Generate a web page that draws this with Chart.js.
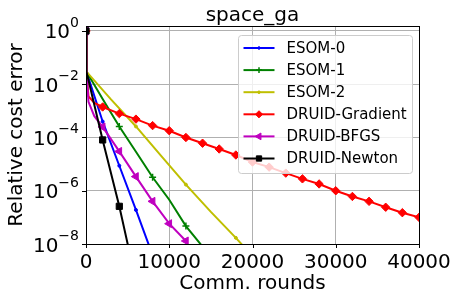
<!DOCTYPE html>
<html>
<head>
<meta charset="utf-8">
<script src="https://cdn.jsdelivr.net/npm/chart.js@4.4.1/dist/chart.umd.min.js"></script>
<style>
  html, body { margin: 0; padding: 0; background: #fff; }
  #wrap { width: 458px; height: 300px; }
</style>
</head>
<body>
<div id="wrap"><canvas id="chart"></canvas></div>
<script>
// values (relative cost error vs comm. rounds)
const esom0Rounds = [0, 50, 2000, 4000, 6000, 8000];
const esom0Err = [1, 3.0e-2, 4.0e-4, 8.7e-6, 1.9e-7, 3.8e-9];

const esom1Rounds = [0, 50, 2000, 4000, 6000, 8000, 10000, 12000, 14000];
const esom1Err = [1, 3.0e-2, 2.8e-3, 2.6e-4, 2.9e-5, 3.2e-6, 4.6e-7, 4.7e-8, 8.0e-9];

const esom2Rounds = [0, 50, 3000, 6000, 9000, 12000, 15000, 18000, 20000];
const esom2Err = [1, 3.0e-2, 2.7e-3, 2.6e-4, 2.1e-5, 1.7e-6, 1.6e-7, 1.7e-8, 3.5e-9];

const gradRounds = [0, 50, 300, 1000, 2000, 4000, 6000, 8000, 10000, 12000, 14000, 16000,
  18000, 20000, 22000, 24000, 26000, 28000, 30000, 32000, 34000, 36000, 38000, 40000];
const gradErr = [1, 3.0e-2, 3.5e-3, 2.0e-3, 1.4e-3, 7.9e-4, 4.9e-4, 2.8e-4, 1.8e-4, 1.0e-4, 6.1e-5, 3.7e-5,
  2.2e-5, 1.2e-5, 7.7e-6, 4.6e-6, 2.8e-6, 1.8e-6, 1.0e-6, 6.1e-7, 4.0e-7, 2.4e-7, 1.5e-7, 1.0e-7];

const bfgsRounds = [0, 50, 300, 1000, 2000, 4000, 6000, 8000, 10000, 12000];
const bfgsErr = [1, 3.0e-2, 2.2e-3, 6.3e-4, 2.5e-4, 3.0e-5, 3.4e-6, 4.0e-7, 5.8e-8, 1.3e-8];

const newtonRounds = [0, 50, 2000, 4000, 6000];
const newtonErr = [1, 3.0e-2, 8.1e-5, 2.6e-7, 4.0e-10];

const xTicks = [0, 10000, 20000, 30000, 40000];
const yTickExps = [0, -2, -4, -6, -8];

const FONT = "DejaVu Sans";

function pts(xs, ys) {
  return xs.map((x, i) => ({ x: x, y: ys[i] }));
}

// markers only every `every` rounds, like matplotlib markevery
function marks(every, r) {
  return (ctx) => (ctx.raw && ctx.raw.x % every === 0 ? r : 0);
}

function series(label, color, xs, ys, style, every, r, extra) {
  return Object.assign({
    label: label,
    data: pts(xs, ys),
    borderColor: color,
    backgroundColor: color,
    borderWidth: 2,
    pointStyle: style,
    pointRadius: marks(every, r),
    pointHoverRadius: marks(every, r),
    pointBorderWidth: 1,
    pointBackgroundColor: color,
    pointBorderColor: color,
    tension: 0,
    markerRadius: r,
  }, extra || {});
}

const datasets = [
  series("ESOM-0", "#0000ff", esom0Rounds, esom0Err, "circle", 2000, 1.5),
  series("ESOM-1", "#008000", esom1Rounds, esom1Err, "cross", 4000, 3.5, { pointBorderWidth: 1.5 }),
  series("ESOM-2", "#bfbf00", esom2Rounds, esom2Err, "circle", 6000, 1.5),
  series("DRUID-Gradient", "#ff0000", gradRounds, gradErr, "rectRot", 2000, 4.2),
  series("DRUID-BFGS", "#bf00bf", bfgsRounds, bfgsErr, "triangle", 2000, 4.6, { pointRotation: -90 }),
  series("DRUID-Newton", "#000000", newtonRounds, newtonErr, "rect", 2000, 4.4),
];
// later series on top, as in matplotlib
datasets.forEach((d, i) => { d.order = datasets.length - i; });

// frame, ticks, tick labels, titles and legend in matplotlib style
const mplDecor = {
  id: "mplDecor",
  afterDatasetsDraw(chart) {
    const ctx = chart.ctx;
    const a = chart.chartArea;
    const xs = chart.scales.x, ys = chart.scales.y;
    ctx.save();

    // spines
    ctx.strokeStyle = "#000";
    ctx.lineWidth = 1;
    ctx.strokeRect(Math.round(a.left) + 0.5, Math.round(a.top) + 0.5,
      Math.round(a.right - a.left), Math.round(a.bottom - a.top));

    // tick marks
    ctx.beginPath();
    xTicks.forEach((v) => {
      const px = Math.round(xs.getPixelForValue(v)) + 0.5;
      ctx.moveTo(px, a.bottom);
      ctx.lineTo(px, a.bottom + 4);
    });
    yTickExps.forEach((e) => {
      const py = Math.round(ys.getPixelForValue(Math.pow(10, e))) + 0.5;
      ctx.moveTo(a.left - 4, py);
      ctx.lineTo(a.left, py);
    });
    ctx.stroke();

    // y tick labels: 10 with superscript exponent
    ctx.fillStyle = "#000";
    ctx.textBaseline = "alphabetic";
    yTickExps.forEach((e) => {
      const py = ys.getPixelForValue(Math.pow(10, e));
      const exp = e < 0 ? "\u2212" + (-e) : String(e);
      ctx.font = "14px " + FONT;
      const ew = ctx.measureText(exp).width;
      ctx.font = "20px " + FONT;
      const bw = ctx.measureText("10").width;
      const right = a.left - 7;
      ctx.textAlign = "left";
      ctx.fillText("10", right - ew - bw, py + 7.5);
      ctx.font = "14px " + FONT;
      ctx.fillText(exp, right - ew, py - 4);
    });

    // title and axis labels
    ctx.font = "20px " + FONT;
    ctx.textAlign = "center";
    ctx.fillText("space_ga", (a.left + a.right) / 2, 21);
    ctx.fillText("Comm. rounds", (a.left + a.right) / 2, 289);
    ctx.save();
    ctx.translate(22, (a.top + a.bottom) / 2);
    ctx.rotate(-Math.PI / 2);
    ctx.fillText("Relative cost error", 0, 0);
    ctx.restore();

    // legend
    const lx = 238.5, ly = 35.5, lw = 174, lh = 138;
    ctx.beginPath();
    ctx.roundRect(lx, ly, lw, lh, 3);
    ctx.fillStyle = "rgba(255,255,255,0.8)";
    ctx.fill();
    ctx.strokeStyle = "#cccccc";
    ctx.lineWidth = 1;
    ctx.stroke();

    ctx.font = "15px " + FONT;
    ctx.textAlign = "left";
    ctx.textBaseline = "middle";
    chart.data.datasets.forEach((d, i) => {
      const cy = 48 + i * 22.1;
      ctx.strokeStyle = d.borderColor;
      ctx.lineWidth = 2;
      ctx.beginPath();
      ctx.moveTo(243.5, cy);
      ctx.lineTo(274.5, cy);
      ctx.stroke();
      ctx.fillStyle = d.borderColor;
      ctx.strokeStyle = d.borderColor;
      ctx.lineWidth = d.pointBorderWidth;
      Chart.helpers.drawPoint(ctx, {
        pointStyle: d.pointStyle,
        rotation: d.pointRotation || 0,
        radius: d.markerRadius * 0.85,
        borderWidth: d.pointBorderWidth,
      }, 259, cy);
      ctx.fillStyle = "#000";
      ctx.fillText(d.label, 286.5, cy + 1);
    });

    ctx.restore();
  },
};

new Chart(document.getElementById("chart"), {
  type: "line",
  data: { datasets: datasets },
  options: {
    responsive: true,
    maintainAspectRatio: false,
    animation: false,
    layout: { padding: { top: 26, right: 39, left: 0, bottom: 0 } },
    plugins: {
      legend: { display: false },
      tooltip: { enabled: false },
    },
    scales: {
      x: {
        type: "linear",
        min: 0,
        max: 40000,
        afterBuildTicks: (s) => { s.ticks = xTicks.map((v) => ({ value: v })); },
        afterFit: (s) => { s.height = 56; },
        ticks: {
          color: "#000",
          font: { family: FONT, size: 20 },
          padding: 7,
          maxRotation: 0,
          autoSkip: false,
          callback: (v) => String(v),
        },
        grid: { color: "#b0b0b0", lineWidth: 1, drawTicks: false },
        border: { display: false },
      },
      y: {
        type: "logarithmic",
        min: 1e-8,
        max: 1.54,
        afterBuildTicks: (s) => { s.ticks = yTickExps.map((e) => ({ value: Math.pow(10, e) })); },
        afterFit: (s) => { s.width = 86; },
        ticks: { display: false },
        grid: { color: "#b0b0b0", lineWidth: 1, drawTicks: false },
        border: { display: false },
      },
    },
  },
  plugins: [mplDecor],
});
</script>
</body>
</html>
